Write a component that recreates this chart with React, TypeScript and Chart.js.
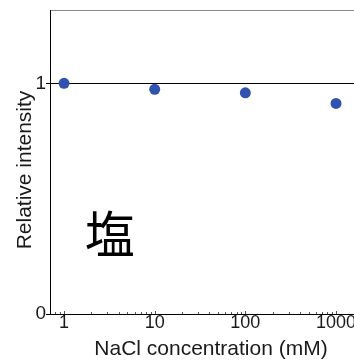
import React, { useEffect, useRef } from 'react';
import { Chart, registerables } from 'chart.js';

Chart.register(...registerables);

// ---- data ----
const concentrations = [1, 10, 100, 1000];
const intensities = [1.0, 0.974, 0.959, 0.913];
const xLabelValues = [1, 10, 100, 1000];
const xDecades = [-1, 0, 1, 2, 3];
const yTickValues = [0, 1];
const xTitle = 'NaCl concentration (mM)';
const yTitle = 'Relative intensity';
const annotationText = '塩';
const annotationAt = { x: 3.2, y: 0.347 };

const X_MIN = 0.701;
const X_MAX = 2494;
const Y_MIN = 0;
const Y_MAX = 1.318;

const FONT = '"Liberation Sans", Arial, Helvetica, sans-serif';
const TEXT = '#1a1a1a';

const xTickValues: number[] = [];
xDecades.forEach((e) => {
  for (let s = 1; s <= 9; s++) {
    const v = s * Math.pow(10, e);
    const val = e >= 0 ? Math.round(v) : Number(v.toFixed(4));
    if (val >= X_MIN && val <= X_MAX) xTickValues.push(val);
  }
});

const innerTicksPlugin = {
  id: 'innerTicks',
  afterDraw(chart: any) {
    const { ctx } = chart;
    const x = chart.scales.x;
    ctx.save();
    ctx.strokeStyle = '#555';
    ctx.lineWidth = 1;
    x.ticks.forEach((t: any) => {
      const px = Math.round(x.getPixelForValue(t.value)) + 0.5;
      const len = xLabelValues.includes(t.value) ? 3 : 2;
      ctx.beginPath();
      ctx.moveTo(px, x.top);
      ctx.lineTo(px, x.top - len);
      ctx.stroke();
    });
    ctx.restore();
  },
};

const yTitlePlugin = {
  id: 'yTitle',
  afterDraw(chart: any) {
    const { ctx, chartArea } = chart;
    const y = chart.scales.y;
    ctx.save();
    ctx.translate(y.left + 25.5, (chartArea.top + chartArea.bottom) / 2 + 8);
    ctx.rotate(-Math.PI / 2);
    ctx.font = `21px ${FONT}`;
    ctx.fillStyle = TEXT;
    ctx.textAlign = 'center';
    ctx.textBaseline = 'middle';
    ctx.fillText(yTitle, 0, 0);
    ctx.restore();
  },
};

const annotationPlugin = {
  id: 'saltLabel',
  afterDatasetsDraw(chart: any) {
    const { ctx } = chart;
    const { x, y } = chart.scales;
    ctx.save();
    ctx.font = '50px "Noto Sans CJK JP", "Noto Sans CJK SC", sans-serif';
    ctx.fillStyle = '#000';
    ctx.textAlign = 'center';
    ctx.textBaseline = 'middle';
    ctx.fillText(annotationText, x.getPixelForValue(annotationAt.x), y.getPixelForValue(annotationAt.y));
    ctx.restore();
  },
};

export default function App() {
  const ref = useRef<HTMLCanvasElement>(null);

  useEffect(() => {
    if (!ref.current) return;
    const chart = new Chart(ref.current, {
      type: 'scatter',
      data: {
        datasets: [
          {
            data: concentrations.map((c, i) => ({ x: c, y: intensities[i] })),
            backgroundColor: '#3152ae',
            borderWidth: 0,
            pointRadius: 5.5,
            pointHoverRadius: 5.5,
          },
        ],
      },
      options: {
        animation: false,
        responsive: false,
        devicePixelRatio: 1,
        events: [],
        layout: { padding: { top: 0, left: 0, right: 8, bottom: 0 } },
        plugins: { legend: { display: false }, tooltip: { enabled: false } },
        scales: {
          x: {
            type: 'logarithmic',
            position: 'bottom',
            min: X_MIN,
            max: X_MAX,
            afterBuildTicks: (s: any) => {
              s.ticks = xTickValues.map((v) => ({ value: v, major: xLabelValues.includes(v) }));
            },
            afterFit: (s: any) => {
              s.height = 48;
            },
            grid: { display: false, drawTicks: false },
            border: { display: true, color: '#000', width: 1 },
            ticks: {
              autoSkip: false,
              maxRotation: 0,
              padding: 0,
              color: TEXT,
              font: { family: FONT, size: 18, lineHeight: 1 },
              callback: (v: any) => (xLabelValues.includes(v) ? String(v) : ''),
            },
            title: {
              display: true,
              text: xTitle,
              color: TEXT,
              font: { family: FONT, size: 21, lineHeight: 1.2 },
              padding: { top: 0, bottom: 0.5 },
            },
          },
          x2: {
            type: 'linear',
            position: 'top',
            afterFit: (s: any) => {
              s.height = 10;
            },
            grid: { display: false, drawTicks: false },
            ticks: { display: false },
            border: { display: true, color: '#888', width: 1 },
          },
          y: {
            type: 'linear',
            min: Y_MIN,
            max: Y_MAX,
            afterBuildTicks: (s: any) => {
              s.ticks = yTickValues.map((v) => ({ value: v }));
            },
            afterFit: (s: any) => {
              s.width = 50;
            },
            grid: {
              color: (c: any) => (c.tick && c.tick.value === 1 ? '#000' : 'rgba(0,0,0,0)'),
              tickColor: '#000',
              tickLength: 4,
              lineWidth: 1,
            },
            border: { display: true, color: '#000', width: 1 },
            ticks: {
              padding: 0,
              color: TEXT,
              font: { family: FONT, size: 19, lineHeight: 1 },
              callback: (v: any) => String(v),
            },
            title: { display: false },
          },
        },
      } as any,
      plugins: [innerTicksPlugin, annotationPlugin, yTitlePlugin],
    });
    return () => chart.destroy();
  }, []);

  return (
    <div style={{ position: 'fixed', left: 0, top: 0, width: 380, height: 362, overflow: 'hidden', background: '#fff' }}>
      <canvas ref={ref} width={380} height={362} style={{ width: 380, height: 362, display: 'block' }} />
    </div>
  );
}
